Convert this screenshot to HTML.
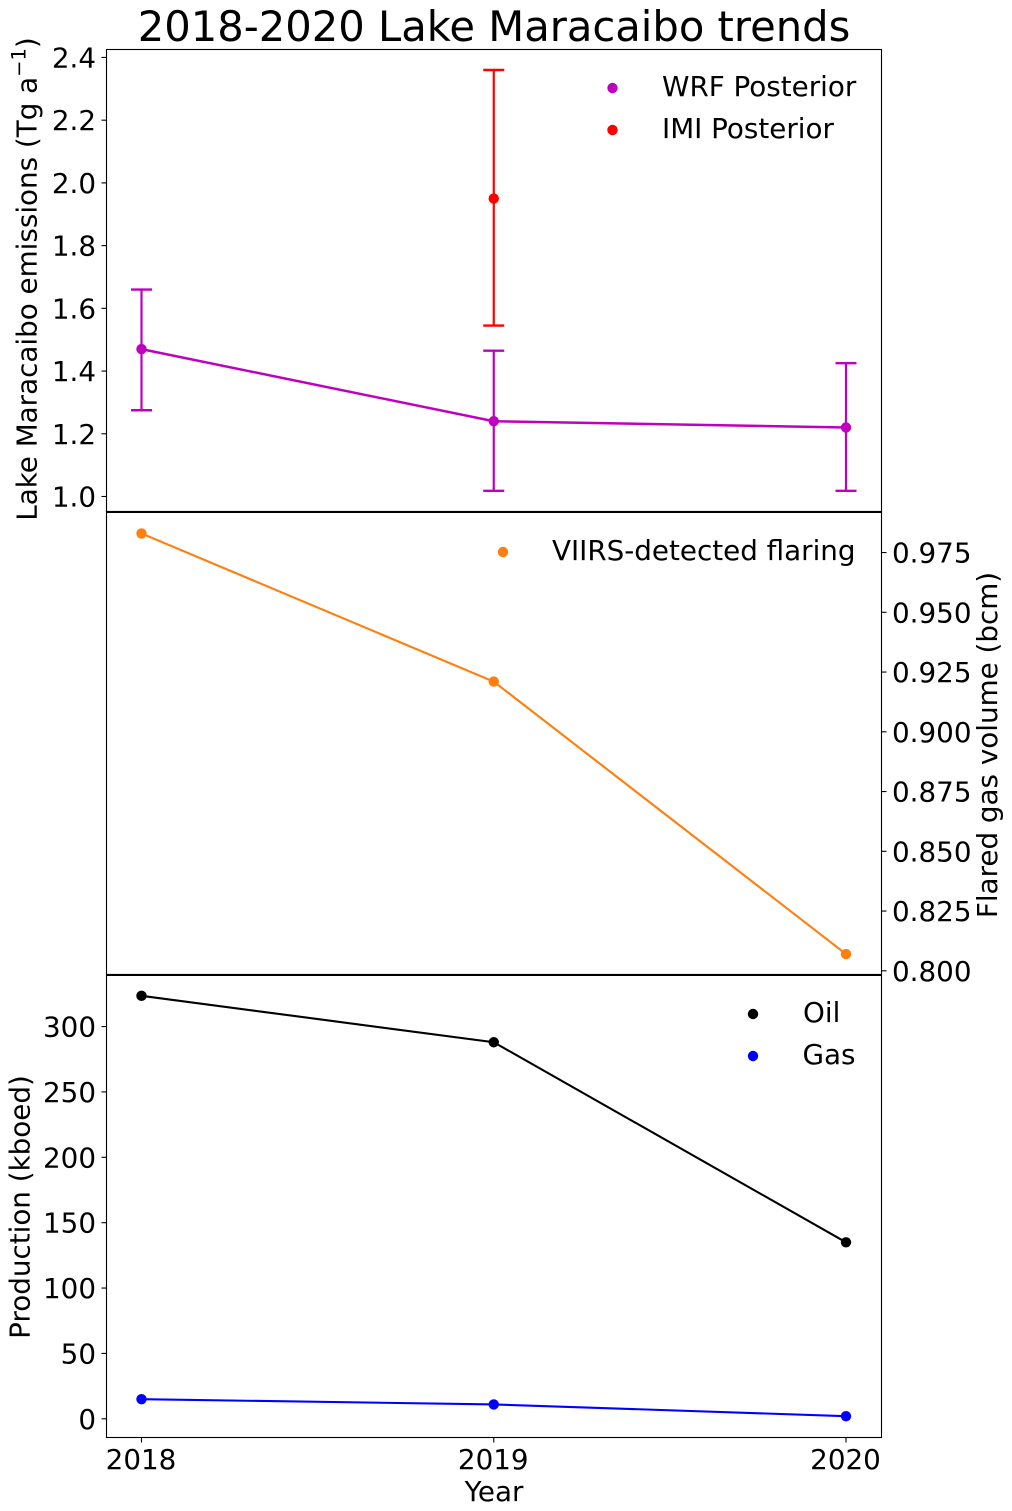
<!DOCTYPE html>
<html>
<head>
<meta charset="utf-8">
<title>2018-2020 Lake Maracaibo trends</title>
<style>
html,body{margin:0;padding:0;background:#fff;}
svg{display:block;}
text{font-family:"DejaVu Sans","Liberation Sans",sans-serif;fill:#000;}
</style>
</head>
<body>
<svg id="chart" xmlns="http://www.w3.org/2000/svg" width="1012" height="1511" viewBox="0 0 1012 1511">
<rect x="0" y="0" width="1012" height="1511" fill="#fff"/>
<text x="494" y="41" font-size="41.67" text-anchor="middle">2018-2020 Lake Maracaibo trends</text>
<text transform="translate(36.5,279) rotate(-90)" font-size="27.78" text-anchor="middle">Lake Maracaibo emissions (Tg a<tspan dy="-11" font-size="19.5">−1</tspan><tspan dy="11">)</tspan></text>
<text transform="translate(997,745) rotate(-90)" font-size="27.78" text-anchor="middle">Flared gas volume (bcm)</text>
<text transform="translate(29.5,1207) rotate(-90)" font-size="27.78" text-anchor="middle">Production (kboed)</text>
<text x="494" y="1501" font-size="27.78" text-anchor="middle">Year</text>
<g id="marks"></g>
<g>
<circle cx="612.5" cy="88" r="5.2" fill="#bf00bf"/>
<text x="662" y="96" font-size="27.78">WRF Posterior</text>
<circle cx="612.5" cy="130" r="5.2" fill="#ff0000"/>
<text x="662" y="138" font-size="27.78">IMI Posterior</text>
</g>
<g>
<circle cx="503" cy="552" r="5.2" fill="#ff7f0e"/>
<text x="552" y="560" font-size="27.78">VIIRS-detected flaring</text>
</g>
<g>
<circle cx="753" cy="1014" r="5.2" fill="#000"/>
<text x="803" y="1022" font-size="27.78">Oil</text>
<circle cx="753" cy="1056" r="5.2" fill="#0000ff"/>
<text x="802.5" y="1064" font-size="27.78">Gas</text>
</g>
</svg>
<script>
const years = [2018, 2019, 2020];
const wrfValues = [1.47, 1.24, 1.22];
const wrfLow = [1.275, 1.018, 1.018];
const wrfHigh = [1.66, 1.465, 1.425];
const imiYears = [2019];
const imiValues = [1.95];
const imiLow = [1.545];
const imiHigh = [2.36];
const viirsValues = [0.983, 0.921, 0.807];
const oilValues = [323.5, 288, 135];
const gasValues = [15, 11, 2];
const emissionTicks = ["1.0", "1.2", "1.4", "1.6", "1.8", "2.0", "2.2", "2.4"];
const flaringTicks = ["0.800", "0.825", "0.850", "0.875", "0.900", "0.925", "0.950", "0.975"];
const productionTicks = ["0", "50", "100", "150", "200", "250", "300"];

const NS = 'http://www.w3.org/2000/svg';
const marks = document.getElementById('marks');
const xAt = function (v) { return 141.5 + (v - 2018) * 352.25; };
const yEmission = function (v) { return 496.5 - (v - 1.0) * 313.6; };
const yFlaring = function (v) { return 970.8 - (v - 0.8) * 2390; };
const yProduction = function (v) { return 1418.8 - v * 1.3075; };

function make(tag, name, attrs, text) {
  const el = document.createElementNS(NS, tag);
  
  
  Object.keys(attrs).forEach(function (k) { el.setAttribute(k, attrs[k]); });
  if (text !== undefined) el.textContent = text;
  marks.appendChild(el);
  return el;
}
function seg(name, x1, y1, x2, y2, color, w) {
  return make('line', name, { x1: x1, y1: y1, x2: x2, y2: y2, stroke: color, 'stroke-width': w });
}
function series(name, xs, ys, color, w) {
  make('polyline', name + '-line', {
    points: xs.map(function (x, i) { return x + ',' + ys[i]; }).join(' '),
    fill: 'none', stroke: color, 'stroke-width': w
  });
  xs.forEach(function (x, i) {
    make('circle', name + '-point-' + i, { cx: x, cy: ys[i], r: 5.2, fill: color });
  });
}
function errorBars(name, xsData, low, high, color) {
  xsData.forEach(function (yr, i) {
    const x = xAt(yr);
    seg(name + '-error-bar-' + yr, x, yEmission(low[i]), x, yEmission(high[i]), color, 2.2);
    seg(name + '-error-cap-low-' + yr, x - 10.5, yEmission(low[i]), x + 10.5, yEmission(low[i]), color, 2.4);
    seg(name + '-error-cap-high-' + yr, x - 10.5, yEmission(high[i]), x + 10.5, yEmission(high[i]), color, 2.4);
  });
}

/* series */
errorBars('imi', imiYears, imiLow, imiHigh, '#ff0000');
series('imi', imiYears.map(xAt), imiValues.map(yEmission), '#ff0000', 2.1);
errorBars('wrf', years, wrfLow, wrfHigh, '#bf00bf');
series('wrf', years.map(xAt), wrfValues.map(yEmission), '#bf00bf', 2.5);
series('viirs', years.map(xAt), viirsValues.map(yFlaring), '#ff7f0e', 2.1);
series('oil', years.map(xAt), oilValues.map(yProduction), '#000000', 2.1);
series('gas', years.map(xAt), gasValues.map(yProduction), '#0000ff', 2.1);

/* axes frames */
const L = 106.5, R = 881.5;
make('rect', 'emissions-panel-frame', { x: L, y: 49.5, width: R - L, height: 462, fill: 'none', stroke: '#000', 'stroke-width': 1.1 });
make('rect', 'flaring-panel-frame', { x: L, y: 511.5, width: R - L, height: 463, fill: 'none', stroke: '#000', 'stroke-width': 1.1 });
make('rect', 'production-panel-frame', { x: L, y: 974.5, width: R - L, height: 463, fill: 'none', stroke: '#000', 'stroke-width': 1.1 });
seg('emissions-flaring-divider', L, 512, R, 512, '#000', 2);
seg('flaring-production-divider', L, 975, R, 975, '#000', 2);

/* ticks */
const tickFont = 27.78;
emissionTicks.forEach(function (t) {
  const y = yEmission(parseFloat(t));
  seg('emissions-y-tick-' + t, L - 5, y, L, y, '#000', 1.1);
  make('text', 'emissions-y-tick-label-' + t, { x: 96, y: y + 10, 'font-size': tickFont, 'text-anchor': 'end' }, t);
});
flaringTicks.forEach(function (t) {
  const y = yFlaring(parseFloat(t));
  seg('flaring-y-tick-' + t, R, y, R + 5, y, '#000', 1.1);
  make('text', 'flaring-y-tick-label-' + t, { x: 892, y: y + 10, 'font-size': tickFont }, t);
});
productionTicks.forEach(function (t) {
  const y = yProduction(parseFloat(t));
  seg('production-y-tick-' + t, L - 5, y, L, y, '#000', 1.1);
  make('text', 'production-y-tick-label-' + t, { x: 96, y: y + 10, 'font-size': tickFont, 'text-anchor': 'end' }, t);
});
years.forEach(function (yr) {
  const x = xAt(yr);
  seg('x-tick-' + yr, x, 1437.5, x, 1442.5, '#000', 1.1);
  make('text', 'x-tick-label-' + yr, { x: x - 0.5, y: 1469, 'font-size': tickFont, 'text-anchor': 'middle' }, String(yr));
});
</script>
</body>
</html>
